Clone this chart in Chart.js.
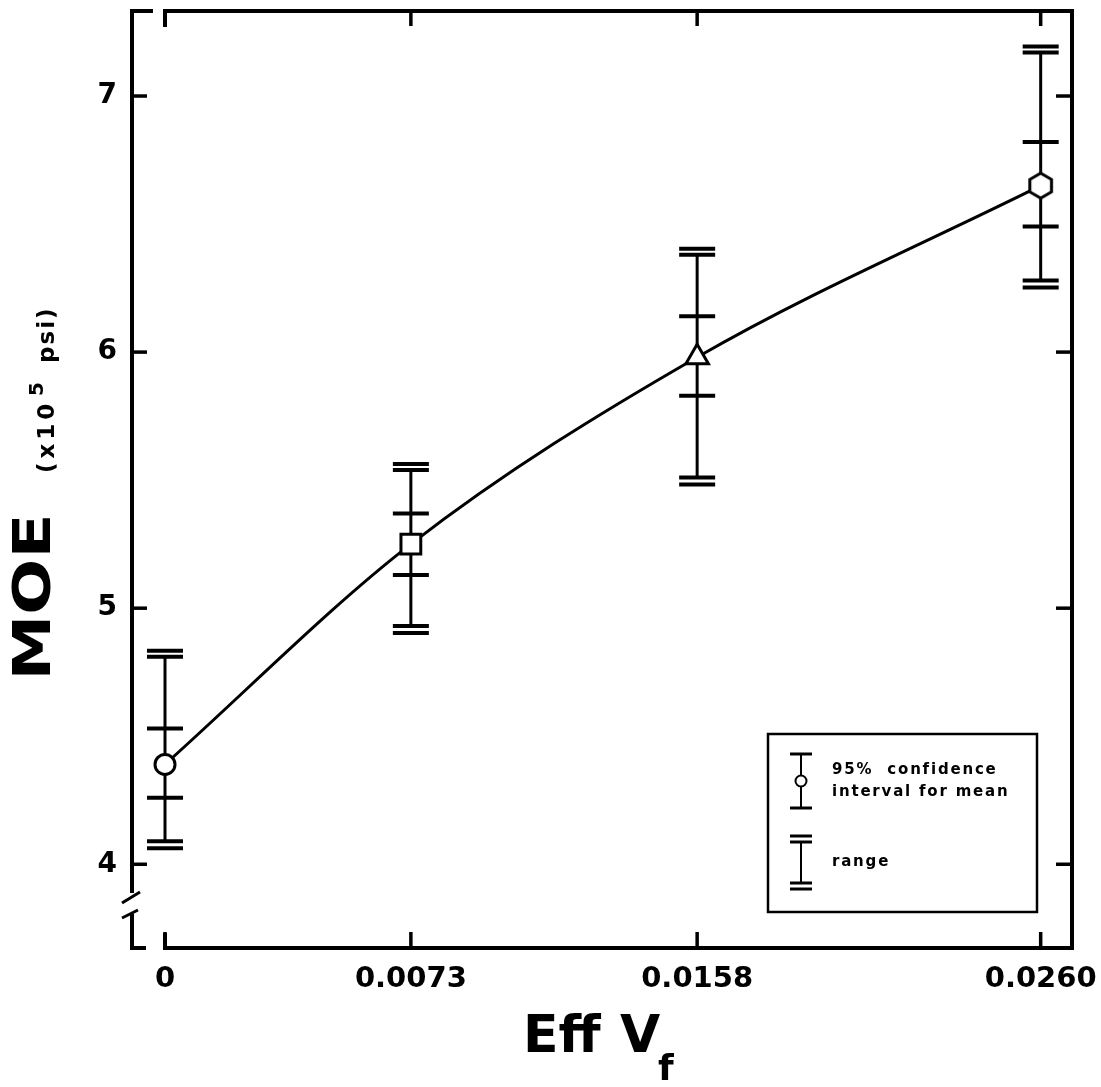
<!DOCTYPE html>
<html>
<head>
<meta charset="utf-8">
<script src="https://cdn.jsdelivr.net/npm/chart.js@4.4.1/dist/chart.umd.min.js"></script>
<style>
html, body { margin: 0; padding: 0; background: #fff; }
#wrap { width: 1101px; height: 1087px; position: relative; }
</style>
</head>
<body>
<div id="wrap"><canvas id="chart_moe"></canvas></div>
<script>
// Eff Vf on x, MOE (x10^5 psi) on y
var effVf = [0, 0.0073, 0.0158, 0.0260];
var xTickLabels = ['0', '0.0073', '0.0158', '0.0260'];
var yTicks = [4, 5, 6, 7];
var moeMean = [4.39, 5.25, 5.98, 6.65];
var ciLow = [4.26, 5.13, 5.83, 6.49];
var ciHigh = [4.53, 5.37, 6.14, 6.82];
var rangeLow = [4.09, 4.93, 5.51, 6.28];
var rangeHigh = [4.81, 5.54, 6.38, 7.17];

var FONT = '"DejaVu Sans", "Liberation Sans", sans-serif';

function hexagon(r) {
    var c = document.createElement('canvas');
    var s = Math.ceil(2 * r + 6);
    c.width = s; c.height = s;
    var g = c.getContext('2d');
    g.beginPath();
    for (var i = 0; i < 6; i++) {
        var a = Math.PI / 2 + i * Math.PI / 3;
        var px = s / 2 + r * Math.cos(a), py = s / 2 + r * Math.sin(a);
        if (i) g.lineTo(px, py); else g.moveTo(px, py);
    }
    g.closePath();
    g.fillStyle = '#fff'; g.fill();
    g.lineWidth = 3; g.strokeStyle = '#000'; g.stroke();
    return c;
}

function seg(ctx, x1, y1, x2, y2) {
    ctx.beginPath(); ctx.moveTo(x1, y1); ctx.lineTo(x2, y2); ctx.stroke();
}

var errorBars = {
    id: 'errorBars',
    beforeDatasetsDraw: function(chart) {
        var ctx = chart.ctx, xs = chart.scales.x, ys = chart.scales.y;
        var hw = 18;
        ctx.save();
        ctx.strokeStyle = '#000';
        effVf.forEach(function(v, i) {
            var px = xs.getPixelForValue(v);
            var top = ys.getPixelForValue(rangeHigh[i]);
            var bot = ys.getPixelForValue(rangeLow[i]);
            ctx.lineWidth = 3;
            seg(ctx, px, top, px, bot);
            ctx.lineWidth = 4;
            [ciLow[i], ciHigh[i], rangeLow[i], rangeHigh[i]].forEach(function(val) {
                var py = ys.getPixelForValue(val);
                seg(ctx, px - hw, py, px + hw, py);
            });
            seg(ctx, px - hw, top - 6, px + hw, top - 6);
            seg(ctx, px - hw, bot + 7, px + hw, bot + 7);
        });
        ctx.restore();
    }
};

var frame = {
    id: 'frame',
    afterDraw: function(chart) {
        var ctx = chart.ctx, ca = chart.chartArea;
        var xs = chart.scales.x, ys = chart.scales.y;
        var L = ca.left, R = ca.right, T = ca.top, B = ca.bottom;
        var x0 = xs.getPixelForValue(0);
        ctx.save();
        ctx.strokeStyle = '#000';
        ctx.fillStyle = '#000';
        ctx.lineWidth = 4;
        ctx.lineJoin = 'miter';
        // left axis, upper piece
        ctx.beginPath();
        ctx.moveTo(L + 21, T); ctx.lineTo(L, T); ctx.lineTo(L, B - 55);
        ctx.stroke();
        ctx.lineWidth = 3;
        seg(ctx, L - 10, B - 45, L + 8, B - 56);
        seg(ctx, L - 10, B - 30, L + 6, B - 38);
        ctx.lineWidth = 4;
        ctx.beginPath();
        ctx.moveTo(L, B - 34); ctx.lineTo(L, B); ctx.lineTo(L + 14, B);
        ctx.stroke();
        // main box from x = 0
        ctx.beginPath();
        ctx.moveTo(x0, T + 16); ctx.lineTo(x0, T); ctx.lineTo(R, T);
        ctx.lineTo(R, B); ctx.lineTo(x0, B); ctx.lineTo(x0, B - 15);
        ctx.stroke();
        // ticks
        ctx.lineWidth = 3.5;
        yTicks.forEach(function(v) {
            var py = ys.getPixelForValue(v);
            seg(ctx, L, py, L + 15, py);
            seg(ctx, R - 16, py, R, py);
        });
        effVf.forEach(function(v) {
            var px = xs.getPixelForValue(v);
            seg(ctx, px, T, px, T + 15);
            seg(ctx, px, B, px, B - 16);
        });

        // y title
        ctx.save();
        ctx.translate(50, 597);
        ctx.rotate(-Math.PI / 2);
        ctx.font = 'bold 51px ' + FONT;
        ctx.textAlign = 'center';
        ctx.textBaseline = 'alphabetic';
        var w = ctx.measureText('MOE').width;
        ctx.scale(167 / w, 1);
        ctx.fillText('MOE', 0, 0);
        ctx.restore();

        ctx.save();
        ctx.translate(54, 473);
        ctx.rotate(-Math.PI / 2);
        ctx.textAlign = 'left';
        ctx.letterSpacing = '4px';
        ctx.font = 'bold 23px ' + FONT;
        ctx.fillText('(x10', 0, 0);
        ctx.font = 'bold 20px ' + FONT;
        ctx.letterSpacing = '0px';
        ctx.fillText('5', 77, -11);
        ctx.font = 'bold 23px ' + FONT;
        ctx.letterSpacing = '2px';
        ctx.fillText('psi)', 110, 0);
        ctx.restore();

        // x title
        ctx.save();
        ctx.textAlign = 'left';
        ctx.textBaseline = 'alphabetic';
        ctx.font = 'bold 52px ' + FONT;
        ctx.fillText('Eff', 523, 1052);
        ctx.fillText('V', 620, 1052);
        ctx.font = 'bold 36px ' + FONT;
        ctx.fillText('f', 658, 1080);
        ctx.restore();

        // legend box
        ctx.lineWidth = 2.5;
        ctx.strokeRect(768, 734, 269, 178);
        var lx = 801;
        ctx.lineWidth = 2;
        seg(ctx, lx, 754, lx, 808);
        ctx.lineWidth = 3;
        seg(ctx, lx - 11, 754, lx + 11, 754);
        seg(ctx, lx - 11, 808, lx + 11, 808);
        ctx.beginPath();
        ctx.arc(lx, 781, 5.5, 0, Math.PI * 2);
        ctx.fillStyle = '#fff'; ctx.fill();
        ctx.lineWidth = 2; ctx.stroke();
        ctx.fillStyle = '#000';
        ctx.lineWidth = 2;
        seg(ctx, lx, 841, lx, 883);
        ctx.lineWidth = 3;
        [836, 842, 883, 889].forEach(function(py) { seg(ctx, lx - 11, py, lx + 11, py); });
        ctx.font = 'bold 15px ' + FONT;
        ctx.letterSpacing = '1.8px';
        ctx.textBaseline = 'middle';
        ctx.textAlign = 'left';
        ctx.fillText('95%  confidence', 832, 770);
        ctx.fillText('interval for mean', 832, 792);
        ctx.fillText('range', 832, 862);
        ctx.restore();
    }
};

var chart_moe = new Chart(document.getElementById('chart_moe'), {
    type: 'line',
    data: {
        datasets: [{
            label: 'MOE',
            data: effVf.map(function(v, i) { return { x: v, y: moeMean[i] }; }),
            borderColor: '#000',
            borderWidth: 3,
            cubicInterpolationMode: 'monotone',
            pointStyle: ['circle', 'rect', 'triangle', hexagon(12.5)],
            pointRadius: [10, 14, 13, 13],
            pointBackgroundColor: '#fff',
            pointBorderColor: '#000',
            pointBorderWidth: 3
        }]
    },
    options: {
        animation: false,
        responsive: true,
        maintainAspectRatio: false,
        layout: { autoPadding: false, padding: { top: 11, right: 29, left: 0, bottom: 0 } },
        plugins: {
            legend: { display: false },
            tooltip: { enabled: false }
        },
        scales: {
            x: {
                type: 'linear',
                min: -0.00098,
                max: 0.02693,
                afterBuildTicks: function(s) { s.ticks = effVf.map(function(v) { return { value: v }; }); },
                afterFit: function(s) { s.height = 139; s.paddingLeft = 0; s.paddingRight = 0; },
                grid: { display: false },
                border: { display: false },
                ticks: {
                    autoSkip: false,
                    maxRotation: 0,
                    padding: 6,
                    color: '#000',
                    font: { family: FONT, weight: 'bold', size: 29 },
                    callback: function(value, index) { return xTickLabels[index]; }
                }
            },
            y: {
                min: 3.673,
                max: 7.332,
                afterBuildTicks: function(s) { s.ticks = yTicks.map(function(v) { return { value: v }; }); },
                afterFit: function(s) { s.width = 132; s.paddingTop = 0; s.paddingBottom = 0; },
                grid: { display: false },
                border: { display: false },
                ticks: {
                    padding: 7,
                    color: '#000',
                    font: { family: FONT, weight: 'bold', size: 28, lineHeight: 0.7 },
                    callback: function(value) { return String(value); }
                }
            }
        }
    },
    plugins: [errorBars, frame]
});
</script>
</body>
</html>
